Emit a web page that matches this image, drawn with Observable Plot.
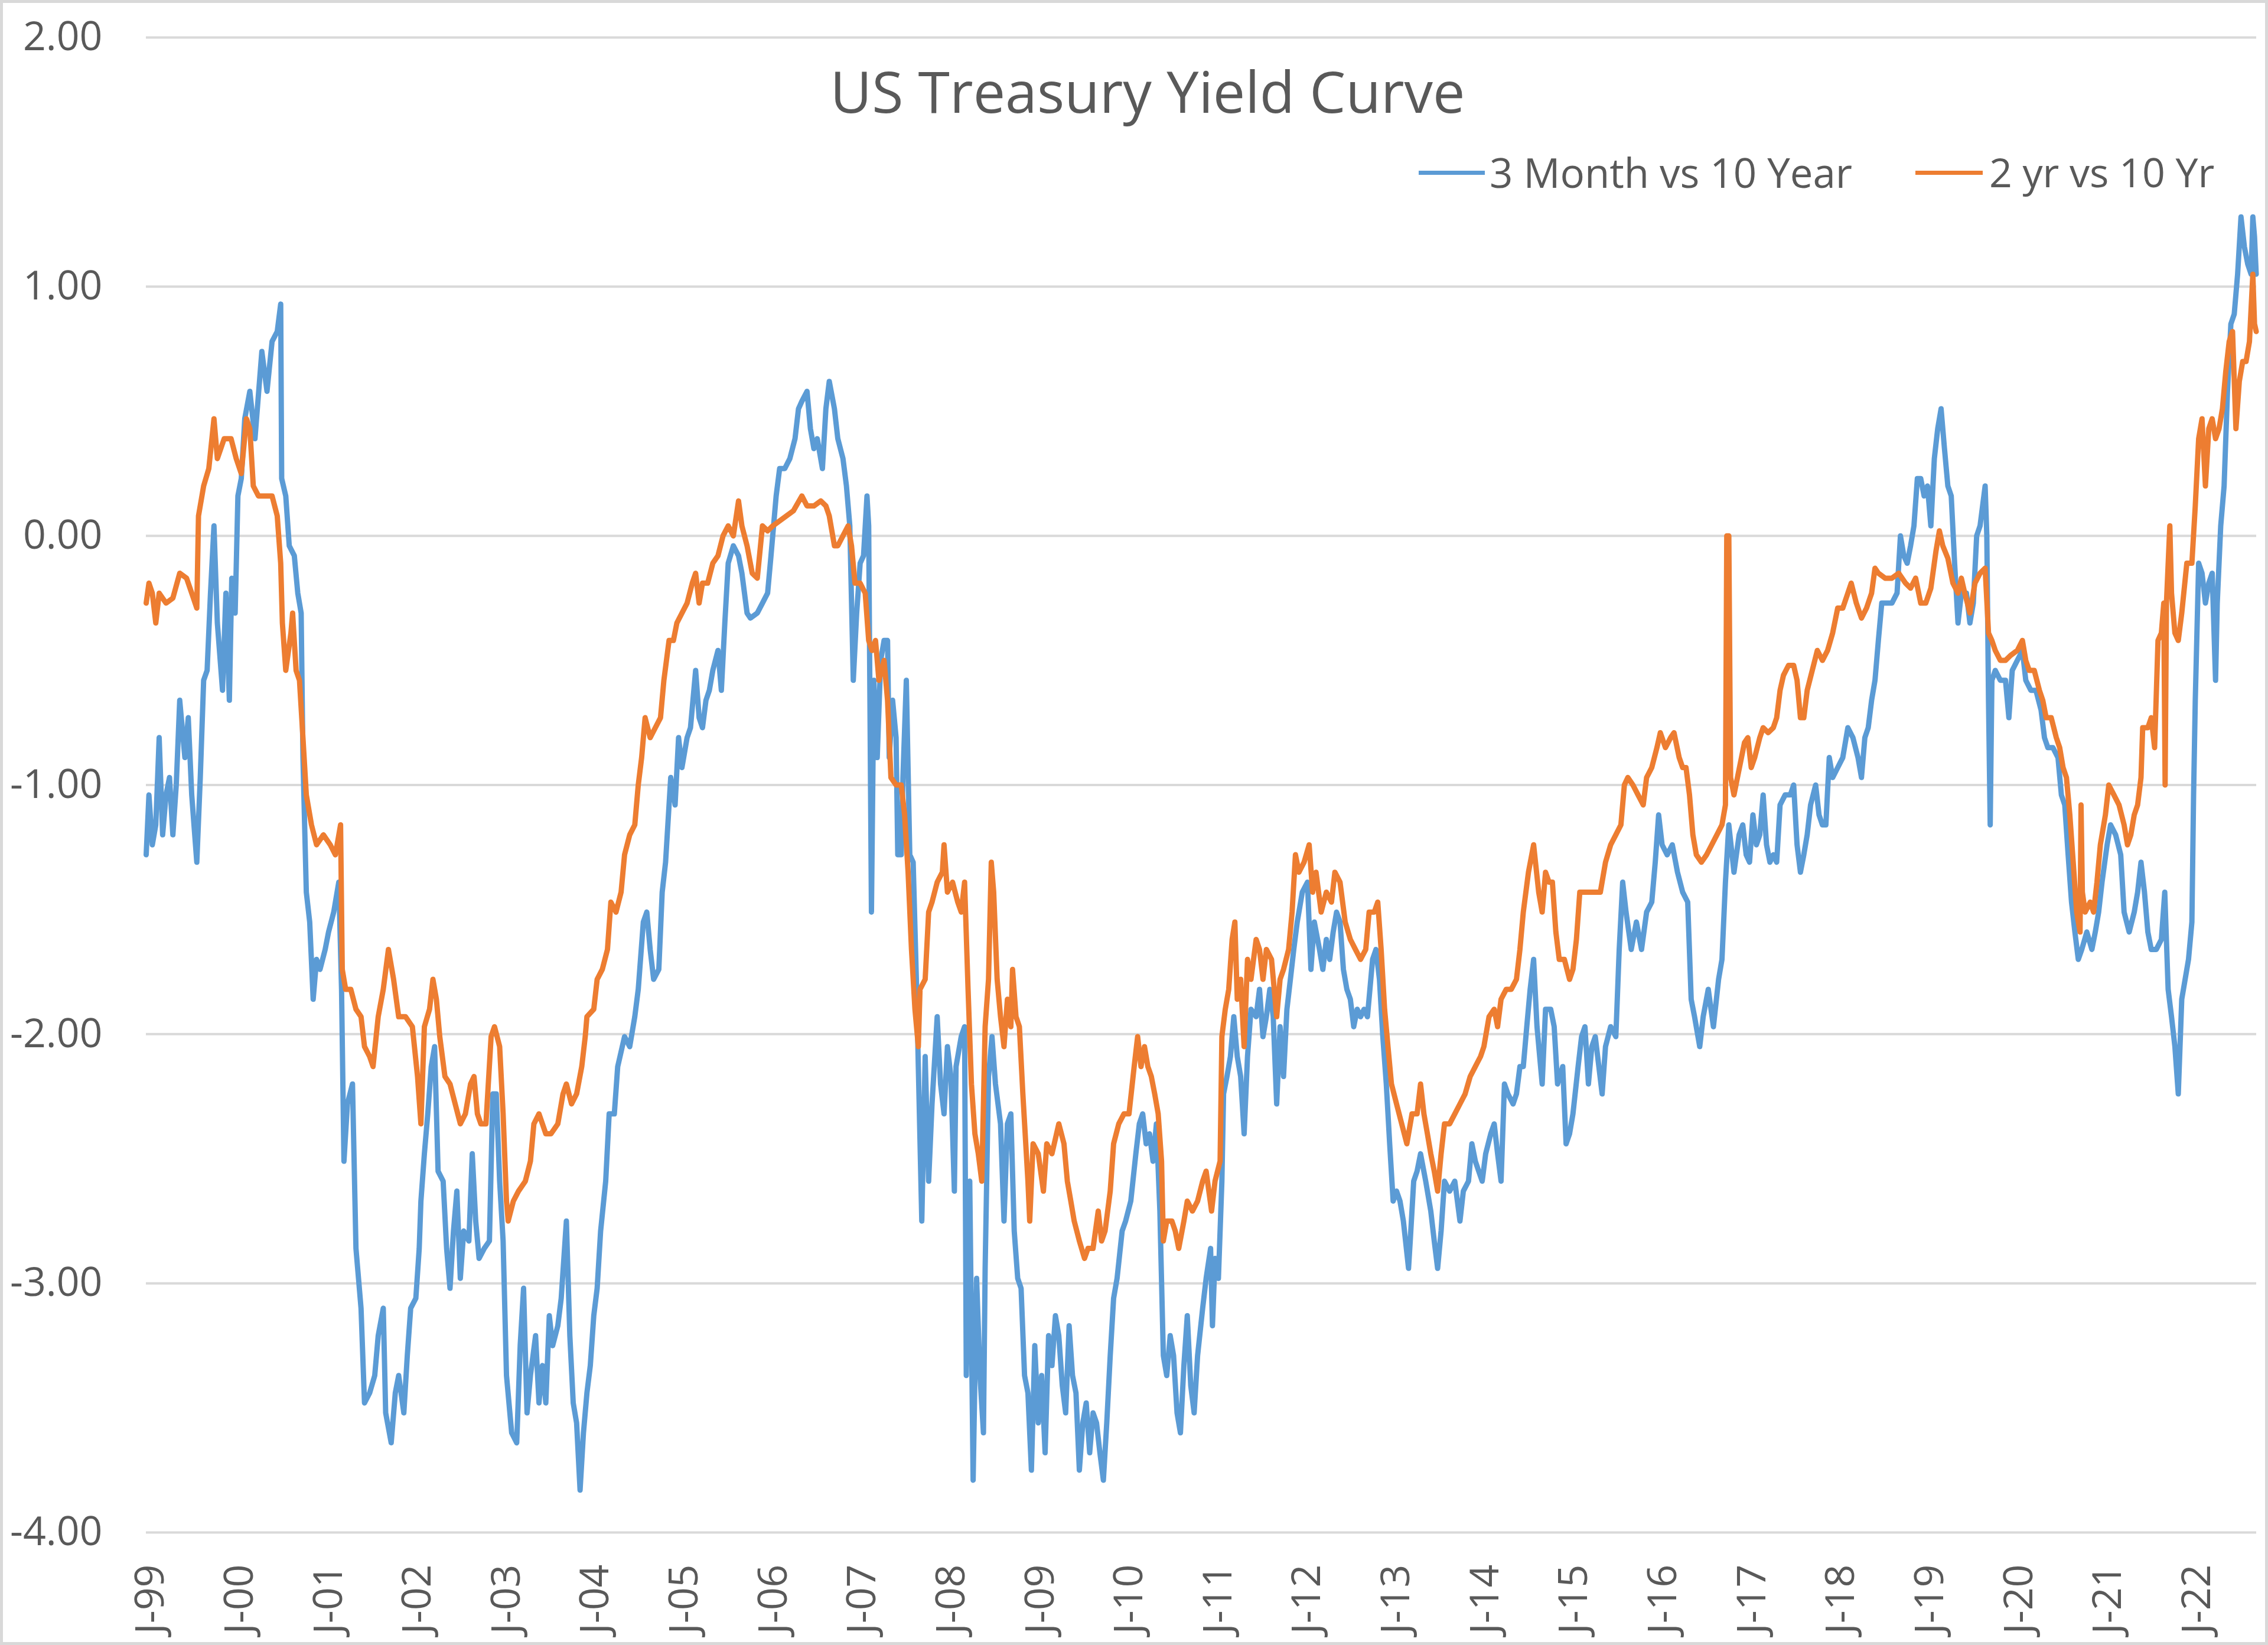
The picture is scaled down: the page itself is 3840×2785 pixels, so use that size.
<!DOCTYPE html>
<html>
<head>
<meta charset="utf-8">
<script src="https://cdn.jsdelivr.net/npm/d3@7"></script>
<script src="https://cdn.jsdelivr.net/npm/@observablehq/plot@0.6"></script>
<style>
  html, body { margin: 0; padding: 0; background: #fff; }
  #wrap { position: relative; width: 3840px; height: 2785px; overflow: hidden; font-family: "Open Sans", "Noto Sans", sans-serif; color: #595959; }
  #wrap svg { position: absolute; left: 0; top: 0; }
  .ov { position: absolute; white-space: nowrap; line-height: 1; }
  #border { position: absolute; left: 0; top: 0; width: 3840px; height: 2785px; box-sizing: border-box; border: 5px solid #d9d9d9; pointer-events: none; }
</style>
</head>
<body>
<div id="wrap">
  <div id="border"></div>
</div>
<script>
// ---- data: decimal year and spread value (percentage points) ----
const seriesNames = ["3 Month vs 10 Year", "2 yr vs 10 Yr"];
const seriesColors = ["#5B9BD5", "#ED7D31"];
const yTicks = [-4, -3, -2, -1, 0, 1, 2];
const xTickYears = d3.range(1999, 2023);

const blueYears = [
1999.000,1999.031,1999.069,1999.108,1999.146,1999.185,1999.223,1999.262,1999.300,1999.338,1999.377,1999.435,1999.473,1999.512,1999.569,1999.608,1999.646,1999.685,1999.723,1999.762,1999.800,1999.858,1999.896,1999.935,1999.962,
2000.000,2000.031,2000.069,2000.108,2000.165,2000.223,2000.300,2000.358,2000.415,2000.473,2000.512,2000.523,2000.569,2000.608,2000.665,2000.704,2000.742,2000.762,2000.800,2000.838,2000.877,2000.915,2000.954,
2001.012,2001.050,2001.108,2001.165,2001.196,2001.223,2001.262,2001.319,2001.358,2001.415,2001.454,2001.512,2001.569,2001.608,2001.665,2001.692,2001.754,2001.800,2001.838,2001.896,2001.935,2001.973,
2002.031,2002.069,2002.088,2002.127,2002.165,2002.204,2002.242,2002.281,2002.338,2002.377,2002.415,2002.454,2002.492,2002.531,2002.569,2002.627,2002.665,2002.704,2002.742,2002.800,2002.858,2002.896,2002.935,2002.973,
2003.012,2003.050,2003.108,2003.165,2003.204,2003.242,2003.281,2003.319,2003.377,2003.415,2003.454,2003.492,2003.531,2003.569,2003.627,2003.665,2003.723,2003.762,2003.800,2003.838,2003.877,2003.915,2003.954,2003.992,
2004.031,2004.069,2004.108,2004.165,2004.204,2004.262,2004.300,2004.377,2004.435,2004.492,2004.531,2004.588,2004.627,2004.665,2004.704,2004.762,2004.800,2004.838,2004.896,2004.945,2004.984,
2005.022,2005.080,2005.118,2005.176,2005.215,2005.253,2005.292,2005.330,2005.369,2005.427,2005.465,2005.504,2005.542,2005.600,2005.658,2005.696,2005.754,2005.792,2005.869,2005.927,2005.985,
2006.023,2006.081,2006.120,2006.178,2006.235,2006.293,2006.332,2006.370,2006.428,2006.466,2006.505,2006.543,2006.601,2006.640,2006.678,2006.736,2006.774,2006.832,2006.871,2006.909,2006.948,2006.986,
2007.025,2007.063,2007.102,2007.121,2007.152,2007.179,2007.217,2007.256,2007.294,2007.333,2007.352,2007.390,2007.429,2007.448,2007.487,2007.506,2007.544,2007.583,2007.621,2007.660,2007.679,2007.718,2007.756,2007.795,2007.833,2007.891,2007.929,2007.968,
2008.006,2008.045,2008.084,2008.103,2008.161,2008.199,2008.218,2008.257,2008.295,2008.334,2008.372,2008.411,2008.430,2008.468,2008.507,2008.546,2008.603,2008.642,2008.680,2008.719,2008.757,2008.796,2008.834,2008.873,2008.911,2008.950,2008.988,
2009.027,2009.065,2009.104,2009.143,2009.181,2009.220,2009.258,2009.297,2009.335,2009.374,2009.412,2009.451,2009.489,2009.528,2009.566,2009.605,2009.643,2009.682,2009.720,2009.759,2009.797,2009.836,2009.874,2009.913,2009.970,
2010.009,2010.067,2010.124,2010.163,2010.201,2010.240,2010.278,2010.317,2010.355,2010.394,2010.433,2010.471,2010.510,2010.548,2010.587,2010.625,2010.664,2010.702,2010.741,2010.779,2010.818,2010.875,2010.914,2010.964,2010.985,
2011.014,2011.052,2011.091,2011.110,2011.148,2011.187,2011.225,2011.264,2011.302,2011.341,2011.379,2011.418,2011.476,2011.514,2011.553,2011.591,2011.630,2011.668,2011.707,2011.745,2011.784,2011.822,2011.861,2011.899,2011.938,2011.995,
2012.053,2012.092,2012.130,2012.188,2012.226,2012.265,2012.303,2012.342,2012.380,2012.419,2012.457,2012.496,2012.535,2012.573,2012.612,2012.650,2012.689,2012.727,2012.785,2012.823,2012.862,2012.900,2012.939,2012.977,
2013.016,2013.054,2013.093,2013.131,2013.189,2013.208,2013.247,2013.285,2013.324,2013.382,2013.439,2013.478,2013.516,2013.555,2013.593,2013.651,2013.709,2013.767,2013.805,2013.863,2013.901,2013.940,2013.978,
2014.017,2014.056,2014.113,2014.152,2014.190,2014.229,2014.267,2014.306,2014.364,2014.402,2014.441,2014.479,2014.518,2014.556,2014.595,2014.633,2014.691,2014.729,2014.787,2014.826,2014.864,2014.922,2014.960,2014.999,
2015.037,2015.095,2015.134,2015.172,2015.211,2015.249,2015.288,2015.365,2015.403,2015.461,2015.519,2015.557,2015.596,2015.634,2015.692,2015.750,2015.808,2015.865,2015.923,2015.962,
2016.000,2016.039,2016.096,2016.154,2016.212,2016.270,2016.327,2016.366,2016.404,2016.462,2016.501,2016.558,2016.616,2016.674,2016.712,2016.751,2016.789,2016.847,2016.905,2016.946,2016.984,
2017.022,2017.060,2017.099,2017.137,2017.175,2017.213,2017.251,2017.289,2017.327,2017.365,2017.422,2017.480,2017.518,2017.556,2017.594,2017.632,2017.670,2017.708,2017.765,2017.803,2017.841,2017.880,2017.918,2017.956,
2018.013,2018.070,2018.127,2018.184,2018.241,2018.280,2018.318,2018.356,2018.394,2018.432,2018.470,2018.508,2018.565,2018.622,2018.680,2018.718,2018.756,2018.794,2018.832,2018.870,2018.908,2018.946,2018.984,
2019.022,2019.060,2019.099,2019.137,2019.175,2019.213,2019.251,2019.289,2019.327,2019.365,2019.403,2019.460,2019.499,2019.537,2019.575,2019.613,2019.670,2019.689,2019.708,2019.727,2019.746,2019.784,2019.841,2019.899,2019.937,2019.975,
2020.032,2020.089,2020.127,2020.184,2020.241,2020.299,2020.337,2020.375,2020.432,2020.489,2020.527,2020.565,2020.603,2020.641,2020.679,2020.717,2020.756,2020.813,2020.870,2020.908,2020.946,2020.984,
2021.041,2021.080,2021.137,2021.194,2021.232,2021.289,2021.346,2021.384,2021.422,2021.461,2021.499,2021.537,2021.594,2021.651,2021.689,2021.727,2021.765,2021.803,2021.841,2021.880,2021.918,2021.956,2021.994,
2022.013,2022.032,2022.070,2022.108,2022.146,2022.184,2022.222,2022.260,2022.279,2022.318,2022.356,2022.394,2022.432,2022.470,2022.508,2022.546,2022.584,2022.622,2022.660,2022.679,2022.698,2022.717
];
const blueValues = [
-1.28,-1.04,-1.24,-1.16,-0.81,-1.20,-1.04,-0.97,-1.20,-1.00,-0.66,-0.89,-0.73,-1.04,-1.31,-0.97,-0.58,-0.54,-0.23,0.04,-0.35,-0.62,-0.23,-0.66,-0.17,
-0.31,0.16,0.23,0.47,0.58,0.39,0.74,0.58,0.78,0.82,0.93,0.23,0.16,-0.04,-0.08,-0.23,-0.31,-0.89,-1.43,-1.55,-1.86,-1.70,-1.74,
-1.66,-1.59,-1.51,-1.39,-1.82,-2.51,-2.28,-2.20,-2.86,-3.10,-3.48,-3.44,-3.37,-3.21,-3.10,-3.52,-3.64,-3.44,-3.37,-3.52,-3.29,-3.10,
-3.06,-2.86,-2.67,-2.48,-2.32,-2.13,-2.05,-2.55,-2.59,-2.86,-3.02,-2.79,-2.63,-2.98,-2.79,-2.83,-2.48,-2.75,-2.90,-2.86,-2.83,-2.24,-2.24,-2.59,
-2.83,-3.37,-3.60,-3.64,-3.25,-3.02,-3.52,-3.37,-3.21,-3.48,-3.33,-3.48,-3.13,-3.25,-3.17,-3.06,-2.75,-3.21,-3.48,-3.56,-3.83,-3.60,-3.44,-3.33,
-3.13,-3.02,-2.79,-2.59,-2.32,-2.32,-2.13,-2.01,-2.05,-1.93,-1.82,-1.55,-1.51,-1.66,-1.78,-1.74,-1.43,-1.31,-0.97,-1.08,-0.81,
-0.93,-0.81,-0.77,-0.54,-0.73,-0.77,-0.66,-0.62,-0.54,-0.46,-0.62,-0.35,-0.11,-0.04,-0.08,-0.15,-0.31,-0.33,-0.31,-0.27,-0.23,
-0.08,0.16,0.27,0.27,0.31,0.39,0.51,0.54,0.58,0.43,0.35,0.39,0.27,0.51,0.62,0.51,0.39,0.31,0.20,0.04,-0.58,-0.31,
-0.11,-0.08,0.16,0.04,-1.51,-0.58,-0.89,-0.50,-0.42,-0.42,-0.89,-0.66,-0.81,-1.28,-1.28,-0.97,-0.58,-1.28,-1.31,-1.82,-2.13,-2.75,-2.09,-2.59,-2.28,-1.93,-2.20,-2.32,
-2.05,-2.17,-2.63,-2.13,-2.01,-1.97,-3.37,-2.59,-3.79,-2.98,-3.37,-3.60,-2.94,-2.17,-2.01,-2.20,-2.36,-2.75,-2.36,-2.32,-2.79,-2.98,-3.02,-3.37,-3.44,-3.75,-3.25,
-3.56,-3.37,-3.68,-3.21,-3.33,-3.13,-3.21,-3.41,-3.52,-3.17,-3.37,-3.44,-3.75,-3.56,-3.48,-3.68,-3.52,-3.56,-3.68,-3.79,-3.56,-3.29,-3.06,-2.98,-2.79,
-2.75,-2.67,-2.48,-2.36,-2.32,-2.44,-2.40,-2.51,-2.36,-2.71,-3.29,-3.37,-3.21,-3.29,-3.52,-3.60,-3.33,-3.13,-3.41,-3.52,-3.29,-3.10,-2.98,-2.86,-3.17,
-2.90,-2.98,-2.59,-2.24,-2.17,-2.09,-1.93,-2.09,-2.17,-2.40,-2.09,-1.90,-1.93,-1.82,-2.01,-1.93,-1.82,-1.93,-2.28,-1.97,-2.17,-1.90,-1.78,-1.66,-1.55,-1.43,
-1.39,-1.74,-1.55,-1.66,-1.74,-1.62,-1.70,-1.59,-1.51,-1.55,-1.74,-1.82,-1.86,-1.97,-1.90,-1.93,-1.90,-1.93,-1.70,-1.66,-1.78,-2.01,-2.20,-2.44,
-2.67,-2.63,-2.67,-2.75,-2.94,-2.83,-2.59,-2.55,-2.48,-2.59,-2.71,-2.83,-2.94,-2.79,-2.59,-2.63,-2.59,-2.75,-2.63,-2.59,-2.44,-2.51,-2.55,
-2.59,-2.48,-2.40,-2.36,-2.48,-2.59,-2.20,-2.24,-2.28,-2.24,-2.13,-2.13,-1.97,-1.82,-1.70,-1.97,-2.20,-1.90,-1.90,-1.97,-2.20,-2.13,-2.44,-2.40,
-2.32,-2.13,-2.01,-1.97,-2.20,-2.05,-2.01,-2.24,-2.05,-1.97,-2.01,-1.66,-1.39,-1.51,-1.66,-1.55,-1.66,-1.51,-1.47,-1.31,
-1.12,-1.24,-1.28,-1.24,-1.35,-1.43,-1.47,-1.86,-1.93,-2.05,-1.93,-1.82,-1.97,-1.78,-1.70,-1.39,-1.16,-1.35,-1.20,-1.16,-1.28,
-1.31,-1.12,-1.24,-1.20,-1.04,-1.24,-1.31,-1.28,-1.31,-1.08,-1.04,-1.04,-1.00,-1.24,-1.35,-1.28,-1.20,-1.08,-1.00,-1.12,-1.16,-1.16,-0.89,-0.97,
-0.93,-0.89,-0.77,-0.81,-0.89,-0.97,-0.81,-0.77,-0.66,-0.58,-0.42,-0.27,-0.27,-0.27,-0.23,0.00,-0.08,-0.11,-0.04,0.04,0.23,0.23,0.16,
0.20,0.04,0.31,0.43,0.51,0.35,0.20,0.16,-0.11,-0.35,-0.23,-0.23,-0.35,-0.27,0.00,0.04,0.20,0.00,-0.66,-1.16,-0.58,-0.54,-0.58,-0.58,-0.73,-0.54,
-0.50,-0.46,-0.58,-0.62,-0.62,-0.70,-0.81,-0.85,-0.85,-0.89,-1.04,-1.08,-1.28,-1.47,-1.59,-1.70,-1.66,-1.59,-1.66,-1.59,-1.51,-1.39,
-1.24,-1.16,-1.20,-1.28,-1.51,-1.59,-1.51,-1.43,-1.31,-1.43,-1.59,-1.66,-1.66,-1.62,-1.43,-1.82,-1.93,-2.05,-2.24,-1.86,-1.78,-1.70,-1.55,
-1.04,-0.66,-0.11,-0.15,-0.27,-0.19,-0.15,-0.58,-0.27,0.04,0.20,0.58,0.85,0.89,1.05,1.28,1.16,1.09,1.05,1.28,1.20,1.05
];

const orangeYears = [
1999.000,1999.031,1999.069,1999.108,1999.146,1999.223,1999.300,1999.377,1999.454,1999.512,1999.569,1999.588,1999.646,1999.704,1999.762,1999.800,1999.877,1999.954,
2000.012,2000.069,2000.127,2000.165,2000.204,2000.262,2000.338,2000.415,2000.473,2000.512,2000.531,2000.569,2000.627,2000.646,2000.685,2000.723,2000.762,2000.800,2000.858,2000.915,2000.992,
2001.069,2001.127,2001.185,2001.204,2001.242,2001.300,2001.358,2001.415,2001.454,2001.512,2001.550,2001.608,2001.665,2001.723,2001.781,2001.838,2001.915,2001.992,
2002.050,2002.088,2002.127,2002.185,2002.223,2002.262,2002.300,2002.358,2002.415,2002.473,2002.531,2002.588,2002.646,2002.685,2002.723,2002.762,2002.819,2002.877,2002.915,2002.973,
2003.012,2003.050,2003.069,2003.127,2003.185,2003.262,2003.319,2003.358,2003.415,2003.492,2003.550,2003.627,2003.685,2003.723,2003.781,2003.838,2003.896,2003.935,2003.954,
2004.031,2004.069,2004.127,2004.185,2004.223,2004.281,2004.338,2004.377,2004.435,2004.492,2004.531,2004.569,2004.608,2004.665,2004.723,2004.781,2004.819,2004.877,2004.926,2004.965,
2005.022,2005.080,2005.138,2005.176,2005.215,2005.253,2005.311,2005.369,2005.427,2005.484,2005.542,2005.600,2005.658,2005.696,2005.754,2005.812,2005.869,2005.927,2005.985,
2006.043,2006.120,2006.197,2006.274,2006.370,2006.428,2006.505,2006.582,2006.640,2006.678,2006.736,2006.774,2006.832,2006.890,2006.928,2006.967,
2007.025,2007.082,2007.121,2007.159,2007.198,2007.236,2007.294,2007.333,2007.371,2007.429,2007.487,2007.525,2007.564,2007.602,2007.641,2007.679,2007.698,2007.756,2007.795,2007.833,2007.891,2007.949,2007.968,
2008.006,2008.064,2008.122,2008.161,2008.199,2008.238,2008.276,2008.315,2008.353,2008.392,2008.430,2008.468,2008.499,2008.526,2008.565,2008.603,2008.642,2008.680,2008.719,2008.738,2008.777,2008.815,2008.854,2008.911,2008.931,2008.969,
2009.027,2009.085,2009.123,2009.181,2009.258,2009.316,2009.354,2009.393,2009.431,2009.489,2009.547,2009.586,2009.643,2009.701,2009.739,2009.778,2009.836,2009.874,2009.932,2009.990,
2010.047,2010.105,2010.144,2010.182,2010.221,2010.259,2010.298,2010.336,2010.375,2010.413,2010.433,2010.471,2010.529,2010.567,2010.606,2010.664,2010.702,2010.760,2010.818,2010.875,2010.914,2010.975,
2011.014,2011.071,2011.091,2011.129,2011.168,2011.206,2011.237,2011.264,2011.302,2011.341,2011.379,2011.418,2011.476,2011.514,2011.553,2011.591,2011.649,2011.707,2011.745,2011.784,2011.841,2011.880,2011.918,2011.957,
2012.015,2012.072,2012.111,2012.149,2012.207,2012.265,2012.323,2012.361,2012.419,2012.477,2012.535,2012.592,2012.650,2012.708,2012.746,2012.804,2012.843,2012.881,2012.920,2012.958,2012.997,
2013.054,2013.112,2013.170,2013.228,2013.285,2013.324,2013.362,2013.401,2013.439,2013.478,2013.516,2013.555,2013.593,2013.651,2013.709,2013.767,2013.825,2013.882,2013.940,2013.998,
2014.036,2014.094,2014.152,2014.190,2014.229,2014.287,2014.344,2014.402,2014.441,2014.479,2014.537,2014.595,2014.652,2014.691,2014.729,2014.768,2014.806,2014.845,2014.883,2014.941,2014.999,
2015.037,2015.076,2015.114,2015.172,2015.230,2015.288,2015.345,2015.403,2015.461,2015.519,2015.576,2015.615,2015.654,2015.711,2015.769,2015.827,2015.865,2015.923,2015.981,
2016.019,2016.077,2016.135,2016.173,2016.231,2016.270,2016.308,2016.347,2016.385,2016.424,2016.481,2016.539,2016.597,2016.655,2016.712,2016.751,2016.766,2016.789,2016.809,2016.847,2016.886,2016.965,
2017.003,2017.041,2017.080,2017.137,2017.175,2017.232,2017.289,2017.327,2017.365,2017.403,2017.460,2017.518,2017.556,2017.594,2017.632,2017.670,2017.727,2017.784,2017.841,2017.899,2017.956,
2018.013,2018.070,2018.127,2018.165,2018.222,2018.280,2018.337,2018.394,2018.432,2018.470,2018.546,2018.622,2018.699,2018.775,2018.832,2018.889,2018.946,
2019.003,2019.060,2019.118,2019.156,2019.194,2019.251,2019.308,2019.365,2019.403,2019.441,2019.499,2019.556,2019.613,2019.670,2019.708,2019.746,2019.784,2019.841,2019.899,2019.956,
2020.032,2020.089,2020.127,2020.165,2020.222,2020.280,2020.318,2020.356,2020.413,2020.470,2020.508,2020.546,2020.584,2020.622,2020.660,2020.699,2020.737,2020.748,2020.763,2020.794,2020.851,2020.889,2020.927,2020.965,
2021.022,2021.060,2021.118,2021.175,2021.232,2021.270,2021.308,2021.346,2021.384,2021.422,2021.441,2021.499,2021.537,2021.575,2021.613,2021.651,2021.678,2021.693,2021.708,2021.746,2021.765,2021.803,2021.841,2021.880,2021.937,2021.994,
2022.032,2022.070,2022.108,2022.146,2022.184,2022.222,2022.260,2022.299,2022.337,2022.375,2022.413,2022.451,2022.489,2022.527,2022.565,2022.603,2022.641,2022.679,2022.698,2022.717
];
const orangeValues = [
-0.27,-0.19,-0.23,-0.35,-0.23,-0.27,-0.25,-0.15,-0.17,-0.23,-0.29,0.08,0.20,0.27,0.47,0.31,0.39,0.39,
0.31,0.25,0.47,0.43,0.20,0.16,0.16,0.16,0.08,-0.11,-0.35,-0.54,-0.39,-0.31,-0.54,-0.58,-0.81,-1.04,-1.16,-1.24,-1.20,
-1.24,-1.28,-1.16,-1.74,-1.82,-1.82,-1.90,-1.93,-2.05,-2.09,-2.13,-1.93,-1.82,-1.66,-1.78,-1.93,-1.93,-1.97,
-2.17,-2.36,-1.97,-1.90,-1.78,-1.86,-2.01,-2.17,-2.20,-2.28,-2.36,-2.32,-2.20,-2.17,-2.32,-2.36,-2.36,-2.01,-1.97,-2.05,
-2.32,-2.67,-2.75,-2.67,-2.63,-2.59,-2.51,-2.36,-2.32,-2.40,-2.40,-2.36,-2.24,-2.20,-2.28,-2.24,-2.13,-2.01,-1.93,
-1.90,-1.78,-1.74,-1.66,-1.47,-1.51,-1.43,-1.28,-1.20,-1.16,-1.00,-0.89,-0.73,-0.81,-0.77,-0.73,-0.58,-0.42,-0.42,-0.35,
-0.31,-0.27,-0.19,-0.15,-0.27,-0.19,-0.19,-0.11,-0.08,0.00,0.04,0.00,0.14,0.04,-0.04,-0.15,-0.17,0.04,0.02,
0.04,0.06,0.08,0.10,0.16,0.12,0.12,0.14,0.12,0.08,-0.04,-0.04,0.00,0.04,-0.04,-0.19,
-0.19,-0.23,-0.42,-0.46,-0.42,-0.58,-0.50,-0.66,-0.97,-1.00,-1.00,-1.12,-1.35,-1.66,-1.90,-2.05,-1.82,-1.78,-1.51,-1.47,-1.39,-1.35,-1.24,
-1.43,-1.39,-1.47,-1.51,-1.39,-1.82,-2.20,-2.40,-2.48,-2.59,-1.97,-1.78,-1.31,-1.43,-1.78,-1.93,-2.05,-1.86,-1.97,-1.74,-1.93,-1.97,-2.24,-2.59,-2.75,-2.44,
-2.48,-2.63,-2.44,-2.48,-2.36,-2.44,-2.59,-2.67,-2.75,-2.83,-2.90,-2.86,-2.86,-2.71,-2.83,-2.79,-2.63,-2.44,-2.36,-2.32,
-2.32,-2.13,-2.01,-2.13,-2.05,-2.13,-2.17,-2.24,-2.32,-2.51,-2.83,-2.75,-2.75,-2.79,-2.86,-2.75,-2.67,-2.71,-2.67,-2.59,-2.55,-2.71,
-2.59,-2.51,-2.01,-1.90,-1.82,-1.62,-1.55,-1.86,-1.78,-2.05,-1.70,-1.78,-1.62,-1.66,-1.78,-1.66,-1.70,-1.93,-1.78,-1.74,-1.66,-1.51,-1.28,-1.35,
-1.31,-1.24,-1.43,-1.35,-1.51,-1.43,-1.47,-1.35,-1.39,-1.55,-1.62,-1.66,-1.70,-1.66,-1.51,-1.51,-1.47,-1.66,-1.90,-2.05,-2.20,
-2.28,-2.36,-2.44,-2.32,-2.32,-2.20,-2.32,-2.40,-2.48,-2.55,-2.63,-2.48,-2.36,-2.36,-2.32,-2.28,-2.24,-2.17,-2.13,-2.09,
-2.05,-1.93,-1.90,-1.97,-1.86,-1.82,-1.82,-1.78,-1.66,-1.51,-1.35,-1.24,-1.43,-1.51,-1.35,-1.39,-1.39,-1.59,-1.70,-1.70,-1.78,
-1.74,-1.62,-1.43,-1.43,-1.43,-1.43,-1.43,-1.31,-1.24,-1.20,-1.16,-1.00,-0.97,-1.00,-1.04,-1.08,-0.97,-0.93,-0.85,
-0.79,-0.85,-0.81,-0.79,-0.89,-0.93,-0.93,-1.04,-1.20,-1.28,-1.31,-1.28,-1.24,-1.20,-1.16,-1.08,0.00,0.00,-0.97,-1.04,-0.97,-0.83,
-0.81,-0.93,-0.89,-0.81,-0.77,-0.79,-0.77,-0.73,-0.62,-0.56,-0.52,-0.52,-0.58,-0.73,-0.73,-0.62,-0.54,-0.46,-0.50,-0.46,-0.39,
-0.29,-0.29,-0.23,-0.19,-0.27,-0.33,-0.29,-0.23,-0.13,-0.15,-0.17,-0.17,-0.15,-0.19,-0.21,-0.17,-0.27,
-0.27,-0.21,-0.06,0.02,-0.04,-0.09,-0.19,-0.23,-0.17,-0.23,-0.31,-0.19,-0.15,-0.13,-0.39,-0.42,-0.46,-0.50,-0.50,-0.48,
-0.46,-0.42,-0.50,-0.54,-0.54,-0.62,-0.66,-0.73,-0.73,-0.81,-0.85,-0.93,-0.97,-1.12,-1.31,-1.51,-1.59,-1.08,-1.43,-1.51,-1.47,-1.51,-1.39,-1.24,
-1.12,-1.00,-1.04,-1.08,-1.16,-1.24,-1.20,-1.12,-1.08,-0.97,-0.77,-0.77,-0.73,-0.85,-0.42,-0.39,-0.27,-1.00,-0.27,0.04,-0.23,-0.39,-0.42,-0.31,-0.11,-0.11,
0.12,0.39,0.47,0.20,0.43,0.47,0.39,0.43,0.51,0.66,0.78,0.82,0.43,0.62,0.70,0.70,0.78,1.05,0.85,0.82
];

const blue = blueYears.map((t, i) => ({ t, v: blueValues[i] }));
const orange = orangeYears.map((t, i) => ({ t, v: orangeValues[i] }));

const chart = Plot.plot({
  width: 3840,
  height: 2785,
  marginLeft: 247,
  marginRight: 20,
  marginTop: 63,
  marginBottom: 191,
  style: { fontFamily: "'Open Sans', 'Noto Sans', sans-serif", fontSize: "68px", color: "#595959", background: "transparent" },
  x: {
    domain: [1999, 2022.72],
    ticks: xTickYears,
    tickFormat: d => "J-" + String(d % 100).padStart(2, "0"),
    tickRotate: -90,
    tickSize: 0,
    tickPadding: 54,
    label: null
  },
  y: {
    domain: [-4, 2],
    ticks: yTicks,
    tickFormat: d => d.toFixed(2),
    tickSize: 0,
    tickPadding: 74,
    label: null
  },
  marks: [
    Plot.gridY(yTicks, { stroke: "#d9d9d9", strokeOpacity: 1, strokeWidth: 4 }),
    Plot.axisX({ ticks: xTickYears, tickFormat: d => "J-" + String(d % 100).padStart(2, "0"), tickRotate: -90, tickSize: 0, tickPadding: 54, dx: 8, label: null }),
    Plot.line(blue, { x: "t", y: "v", stroke: seriesColors[0], strokeWidth: 9, strokeLinejoin: "round", strokeLinecap: "round" }),
    Plot.line(orange, { x: "t", y: "v", stroke: seriesColors[1], strokeWidth: 9, strokeLinejoin: "round", strokeLinecap: "round" })
  ]
});

const wrap = document.getElementById("wrap");
wrap.insertBefore(chart, wrap.firstChild);

// Title
const title = document.createElement("div");
title.className = "ov";
title.textContent = "US Treasury Yield Curve";
title.style.cssText = "left:1943px; top:105px; font-size:97px; transform:translateX(-50%);";
wrap.appendChild(title);

// Legend
const legendItems = [
  { name: seriesNames[0], color: seriesColors[0], lineLeft: 2402, lineWidth: 112, textLeft: 2522 },
  { name: seriesNames[1], color: seriesColors[1], lineLeft: 3243, lineWidth: 114, textLeft: 3368 }
];
for (const it of legendItems) {
  const sw = document.createElement("div");
  sw.style.cssText = `position:absolute; left:${it.lineLeft}px; top:289px; width:${it.lineWidth}px; height:7px; background:${it.color};`;
  wrap.appendChild(sw);
  const tx = document.createElement("div");
  tx.className = "ov";
  tx.textContent = it.name;
  tx.style.cssText = `left:${it.textLeft}px; top:257px; font-size:${it === legendItems[0] ? 69 : 68}px;`;
  wrap.appendChild(tx);
}
</script>
</body>
</html>
